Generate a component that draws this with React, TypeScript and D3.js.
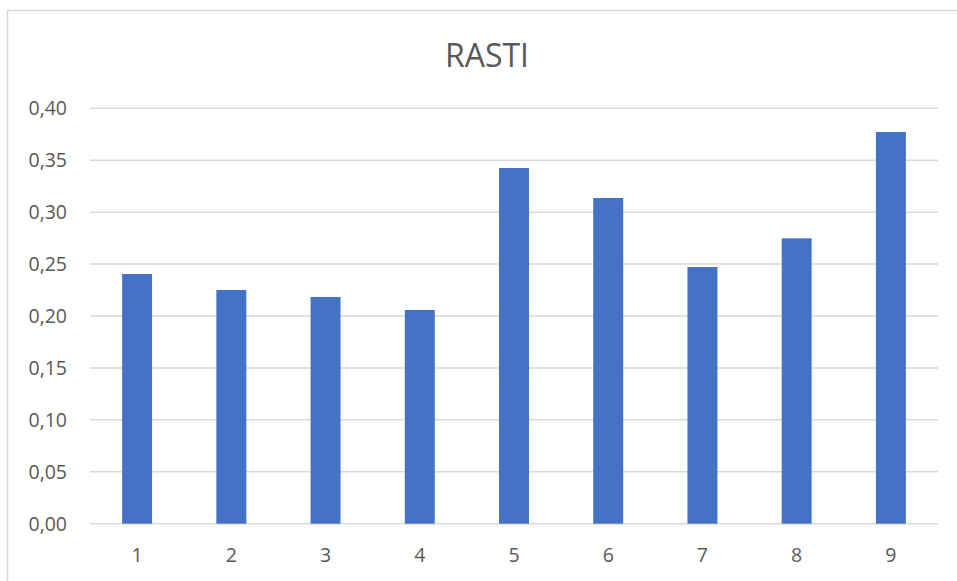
import React from "react";
import * as d3 from "d3";

const categories = ["1", "2", "3", "4", "5", "6", "7", "8", "9"];
const values = [0.2404, 0.225, 0.2183, 0.2058, 0.3425, 0.3136, 0.2472, 0.2748, 0.3772];
const yTicks = [0, 0.05, 0.1, 0.15, 0.2, 0.25, 0.3, 0.35, 0.4];
const title = "RASTI";

const W = 957;
const H = 581;
const plot = { left: 90, right: 938, top: 108.3, bottom: 523.7 };

const fmt = (v: number) => v.toFixed(2).replace(".", ",");

export default function App() {
  const x = d3
    .scaleBand<string>()
    .domain(categories)
    .range([plot.left, plot.right])
    .paddingInner(0.682)
    .paddingOuter(0.341);
  const y = d3.scaleLinear().domain([0, 0.4]).range([plot.bottom, plot.top]);

  const font = "'Open Sans', 'Noto Sans', sans-serif";
  const textColor = "#595959";
  const gridColor = "#d9d9d9";

  return (
    <svg
      width={W}
      height={H}
      viewBox={`0 0 ${W} ${H}`}
      style={{ position: "absolute", left: 0, top: 0, background: "#fff" }}
    >
      <rect x={0} y={0} width={W} height={H} fill="#fff" />
      {/* chart area frame */}
      <path
        d={`M7.5,${H} V10.5 H${W}`}
        fill="none"
        stroke={gridColor}
        strokeWidth={1.5}
      />
      <text
        x={487}
        y={66.5}
        textAnchor="middle"
        fontFamily={font}
        fontSize={32}
        fill={textColor}
      >
        {title}
      </text>
      {yTicks.map((t) => (
        <g key={t}>
          <line
            x1={plot.left}
            x2={plot.right}
            y1={y(t)}
            y2={y(t)}
            stroke={gridColor}
            strokeWidth={1.5}
          />
          <text
            x={67}
            y={y(t)}
            dy="0.36em"
            textAnchor="end"
            fontFamily={font}
            fontSize={19.5}
            fill={textColor}
          >
            {fmt(t)}
          </text>
        </g>
      ))}
      {categories.map((c, i) => (
        <rect
          key={c}
          x={x(c)}
          y={y(values[i])}
          width={x.bandwidth()}
          height={y(0) - y(values[i])}
          fill="#4472c4"
        />
      ))}
      {categories.map((c) => (
        <text
          key={c}
          x={(x(c) ?? 0) + x.bandwidth() / 2}
          y={562}
          textAnchor="middle"
          fontFamily={font}
          fontSize={19.5}
          fill={textColor}
        >
          {c}
        </text>
      ))}
    </svg>
  );
}
